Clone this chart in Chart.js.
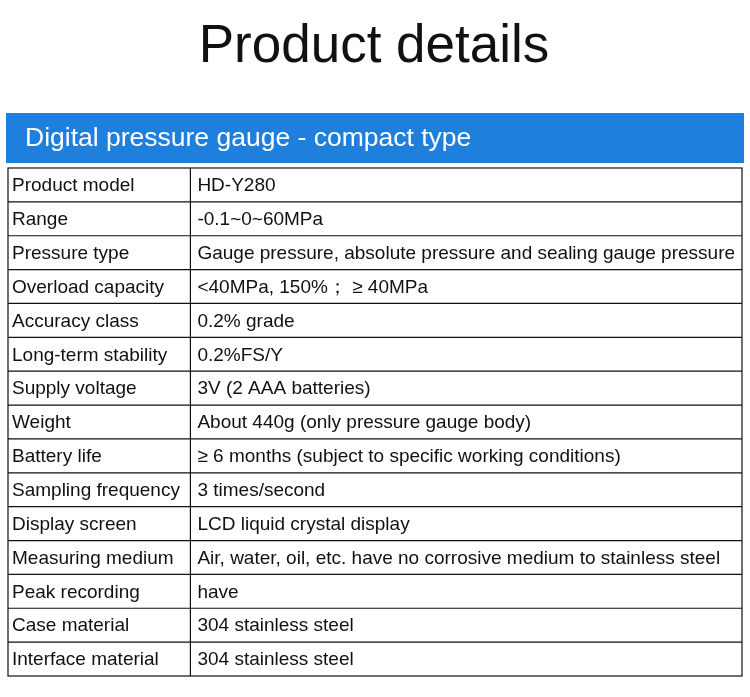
<!DOCTYPE html>
<html><head><meta charset="utf-8">
<script src="https://cdn.jsdelivr.net/npm/chart.js@4"></script>
<style>html,body{margin:0;padding:0;background:#fff}#w{width:750px;height:697px}</style>
</head><body><div id="w"><canvas id="c"></canvas></div>
<script>
const pageTitle = "Product details";
const headerText = "Digital pressure gauge - compact type";
const properties = ["Product model","Range","Pressure type","Overload capacity","Accuracy class","Long-term stability","Supply voltage","Weight","Battery life","Sampling frequency","Display screen","Measuring medium","Peak recording","Case material","Interface material"];
const specs = ["HD-Y280","-0.1~0~60MPa","Gauge pressure, absolute pressure and sealing gauge pressure","<40MPa, 150%\uFF1B \u2265 40MPa","0.2% grade","0.2%FS/Y","3V (2 AAA batteries)","About 440g (only pressure gauge body)","\u2265 6 months (subject to specific working conditions)","3 times/second","LCD liquid crystal display","Air, water, oil, etc. have no corrosive medium to stainless steel","have","304 stainless steel","304 stainless steel"];
const colSplit = 0.2485;

const tablePlugin = {
  id:'table',
  afterDraw(chart){
    const {ctx, chartArea:a, scales:{x,y}} = chart;
    ctx.save();
    ctx.fillStyle='#111';
    ctx.font='53px "Liberation Sans", Arial, sans-serif';
    ctx.textAlign='center'; ctx.textBaseline='middle';
    ctx.fillText(pageTitle, 374, 47);
    ctx.fillStyle='#1f7fdd';
    ctx.fillRect(a.left-2, 113, a.right-a.left+4, 50);
    ctx.fillStyle='#fff'; ctx.textAlign='left';
    ctx.font='26.5px "Liberation Sans", Arial, sans-serif';
    ctx.fillText(headerText, 25, 139);
    const n = properties.length;
    const half = (y.getPixelForValue(1)-y.getPixelForValue(0))/2;
    const xm = x.getPixelForValue(colSplit);
    ctx.strokeStyle='#111'; ctx.lineWidth=1.2;
    ctx.strokeRect(a.left, a.top, a.right-a.left, a.bottom-a.top);
    ctx.beginPath(); ctx.moveTo(xm,a.top); ctx.lineTo(xm,a.bottom);
    for(let i=1;i<n;i++){const yy=y.getPixelForValue(i)-half; ctx.moveTo(a.left,yy); ctx.lineTo(a.right,yy);}
    ctx.stroke();
    ctx.fillStyle='#111';
    ctx.font='19px "Liberation Sans", Arial, sans-serif';
    for(let i=0;i<n;i++){const yy=y.getPixelForValue(i)+1;
      ctx.fillText(properties[i], a.left+4, yy);
      ctx.fillText(specs[i], xm+7, yy);}
    ctx.restore();
  }
};
new Chart(document.getElementById('c'),{
  type:'bar',
  data:{labels:properties,datasets:[{data:properties.map(()=>0)}]},
  options:{indexAxis:'y',responsive:true,maintainAspectRatio:false,animation:false,
    layout:{padding:{left:8,right:8,top:168,bottom:21}},
    plugins:{legend:{display:false},tooltip:{enabled:false}},
    scales:{x:{type:'linear',min:0,max:1,display:false},y:{type:'category',offset:true,display:false}}},
  plugins:[tablePlugin]
});
</script></body></html>
